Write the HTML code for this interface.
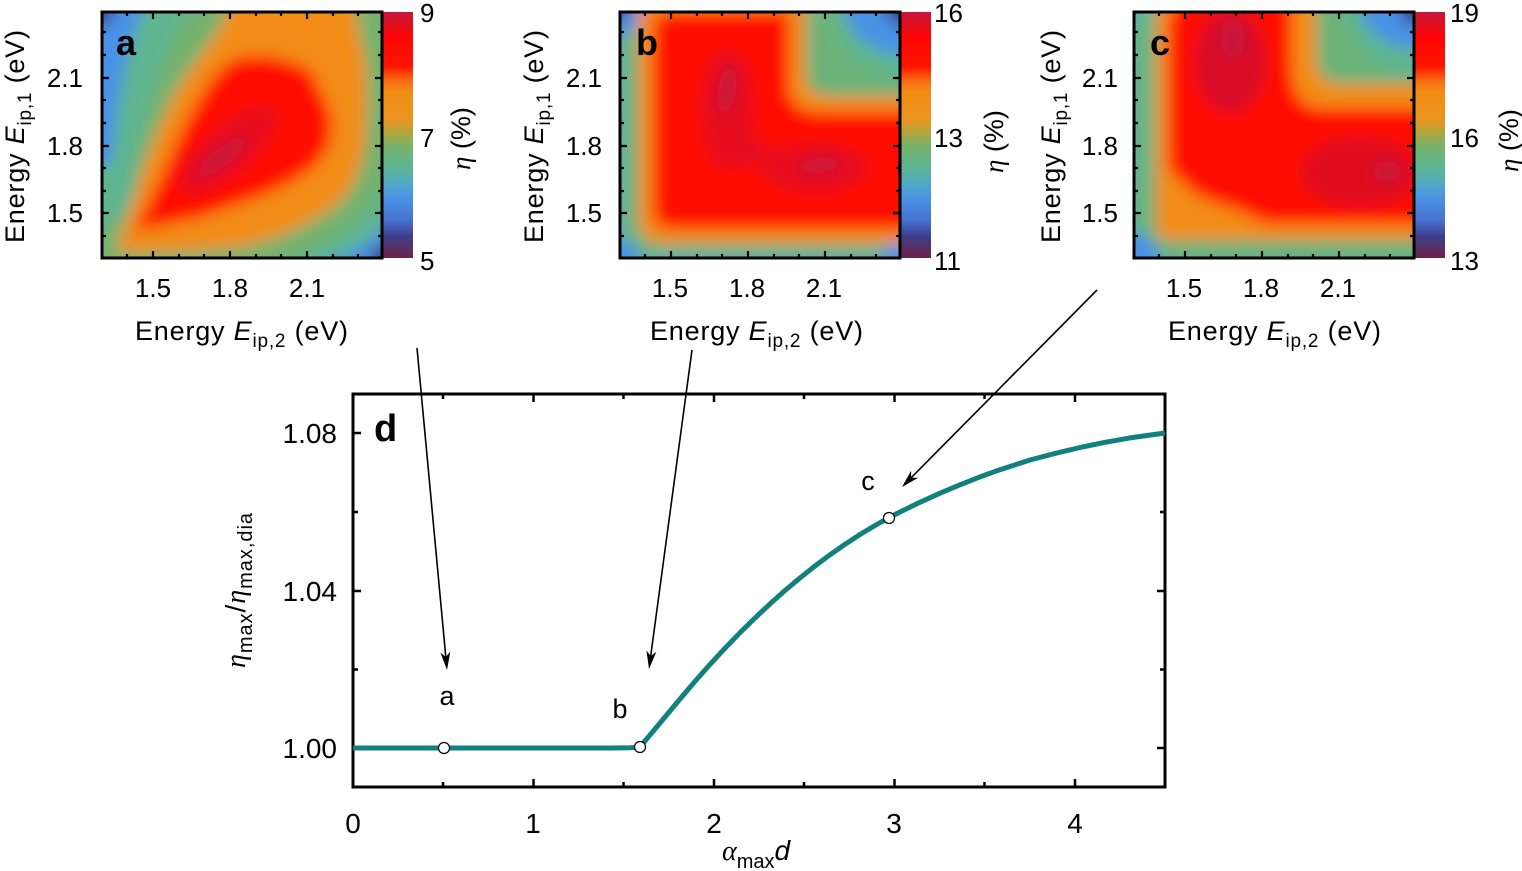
<!DOCTYPE html>
<html><head><meta charset="utf-8"><style>
html,body{margin:0;padding:0;background:#fff;}
svg{display:block;font-family:"Liberation Sans",Arial,sans-serif;}
</style></head><body>
<svg width="1522" height="871" viewBox="0 0 1522 871" xmlns="http://www.w3.org/2000/svg">
<defs>
<linearGradient id="cm" x1="0" y1="0" x2="0" y2="1">
<stop offset="0" stop-color="#c5143c"/>
<stop offset="0.05" stop-color="#e0101e"/>
<stop offset="0.10" stop-color="#ff0505"/>
<stop offset="0.22" stop-color="#ff1500"/>
<stop offset="0.27" stop-color="#fa6010"/>
<stop offset="0.32" stop-color="#f28c14"/>
<stop offset="0.44" stop-color="#ea9420"/>
<stop offset="0.50" stop-color="#a6a845"/>
<stop offset="0.55" stop-color="#74b36e"/>
<stop offset="0.63" stop-color="#5fb590"/>
<stop offset="0.70" stop-color="#50a8c8"/>
<stop offset="0.76" stop-color="#4a92e6"/>
<stop offset="0.85" stop-color="#4670d0"/>
<stop offset="0.91" stop-color="#3e3f8c"/>
<stop offset="1" stop-color="#6e2244"/>
</linearGradient>
<filter id="bl" x="-10%" y="-10%" width="120%" height="120%"><feGaussianBlur stdDeviation="7.5"/></filter>
<clipPath id="ca"><rect x="102" y="12" width="280" height="246"/></clipPath>
<clipPath id="cb"><rect x="620" y="12" width="280" height="246"/></clipPath>
<clipPath id="cc"><rect x="1134" y="12" width="280" height="246"/></clipPath>
<path id="tk" d="M25,258v-4M51,258v-7M77,258v-4M102,258v-4M128,258v-7M154,258v-4M179,258v-4M205,258v-7M231,258v-4M256,258v-4
M25,12v4M51,12v7M77,12v4M102,12v4M128,12v7M154,12v4M179,12v4M205,12v7M231,12v4M256,12v4
M0,32h4M0,55h4M0,78h7M0,100h4M0,123h4M0,146h7M0,168h4M0,191h4M0,213h7M0,236h4
M280,32h-4M280,55h-4M280,78h-7M280,100h-4M280,123h-4M280,146h-7M280,168h-4M280,191h-4M280,213h-7M280,236h-4" fill="none" stroke="#000" stroke-width="2.2"/>
</defs>
<rect width="1522" height="871" fill="#fff"/>

<!-- Panel a heatmap -->
<g clip-path="url(#ca)"><g filter="url(#bl)">
<rect x="88" y="-2" width="310" height="274" fill="#74b36e"/>
<path d="M88,-2 L200,-2 C165,40 140,120 130,210 L88,240 Z" fill="#5fb590"/>
<path d="M398,272 L255,272 C320,252 372,222 398,165 Z" fill="#5fb590"/>
<path d="M88,-2 L150,-2 C130,30 118,90 112,160 L88,175 Z" fill="#4a92e6"/>
<path d="M398,272 L295,272 C345,260 378,240 398,210 Z" fill="#4a92e6"/>
<circle cx="100" cy="12" r="14" fill="#423c86"/>
<circle cx="384" cy="260" r="14" fill="#4a3270"/>
<path d="M116,252 C150,253 190,252 231,248 C262,243 282,236 298,228 C322,216 342,203 350,190 C362,170 367,140 367,110 C367,85 367,62 362,45 C358,30 356,15 354,-2 L234,-2 C226,15 220,28 212,40 C198,58 186,75 175,93 C162,118 150,148 141,175 C133,200 123,228 116,252 Z" fill="#f28c14"/>
<path d="M135,230 C145,210 155,190 165,168 C175,145 185,122 198,101 C208,84 218,70 231,61 C242,55 255,55 265,56 C285,58 300,64 311,71 C314,76 316,80 318,85 C324,97 330,108 331,118 C333,130 331,140 328,148 C320,162 310,172 298,178 C282,188 265,195 248,201 C232,207 215,213 198,218 C175,223 155,228 135,230 Z" fill="#ff0a00"/>
<ellipse cx="228" cy="150" rx="62" ry="24" transform="rotate(-40 228 150)" fill="#e8101e"/>
<ellipse cx="222" cy="157" rx="32" ry="9" transform="rotate(-38 222 157)" fill="#c5143c"/>
</g></g>
<rect x="383" y="12" width="30" height="246" fill="url(#cm)"/>
<rect x="102" y="12" width="280" height="246" fill="none" stroke="#000" stroke-width="3"/>
<use href="#tk" transform="translate(102,0)"/>

<!-- Panel b heatmap -->
<g clip-path="url(#cb)"><g filter="url(#bl)">
<rect x="606" y="-2" width="310" height="274" fill="#6cb37a"/>
<rect x="606" y="-2" width="20" height="274" fill="#5fb5a0"/>
<rect x="606" y="251" width="310" height="22" fill="#5fb2a0"/>
<circle cx="905" cy="5" r="72" fill="#5fb590"/>
<ellipse cx="905" cy="5" rx="60" ry="50" fill="#4a92e6"/>
<circle cx="904" cy="8" r="18" fill="#3e3f8c"/>
<circle cx="615" cy="8" r="28" fill="#4a92e6"/>
<circle cx="618" cy="10" r="10" fill="#403c88"/>
<circle cx="615" cy="262" r="24" fill="#4a92e6"/>
<circle cx="905" cy="262" r="24" fill="#4a92e6"/>
<path d="M638,-2 L806,-2 L806,75 C806,90 815,96 832,96 L916,96 L916,244 L665,244 C648,244 638,235 638,218 Z" fill="#f28c14"/>
<path d="M653,30 C653,18 660,12 675,12 L789,12 L789,85 C789,103 800,112 820,112 L916,112 L916,229 L675,229 C660,229 653,222 653,208 Z" fill="#ff0a00"/>
<ellipse cx="728" cy="110" rx="28" ry="60" fill="#e8101e"/>
<ellipse cx="815" cy="168" rx="55" ry="25" fill="#e8101e"/>
<ellipse cx="748" cy="152" rx="25" ry="12" fill="#e8101e"/>
<ellipse cx="727" cy="90" rx="9" ry="26" transform="rotate(8 727 90)" fill="#c5143c"/>
<ellipse cx="820" cy="165" rx="22" ry="8" transform="rotate(-8 820 165)" fill="#c5143c"/>
<ellipse cx="743" cy="152" rx="8" ry="5" transform="rotate(-40 743 152)" fill="#d41030"/>
</g></g>
<rect x="901" y="12" width="30" height="246" fill="url(#cm)"/>
<rect x="620" y="12" width="280" height="246" fill="none" stroke="#000" stroke-width="3"/>
<use href="#tk" transform="translate(620,0)"/>

<!-- Panel c heatmap -->
<g clip-path="url(#cc)"><g filter="url(#bl)">
<rect x="1120" y="-2" width="310" height="274" fill="#6cb37a"/>
<rect x="1120" y="-2" width="22" height="274" fill="#62b48e"/>
<rect x="1120" y="252" width="310" height="22" fill="#64b48a"/>
<circle cx="1130" cy="8" r="22" fill="#5fb5a0"/>
<circle cx="1419" cy="5" r="72" fill="#5fb590"/>
<ellipse cx="1419" cy="5" rx="58" ry="44" fill="#4a92e6"/>
<circle cx="1416" cy="9" r="16" fill="#3e3f8c"/>
<circle cx="1130" cy="262" r="30" fill="#4a92e6"/>
<path d="M1156,-2 L1316,-2 L1316,55 C1316,75 1325,84 1340,84 L1430,84 L1430,240 L1165,240 C1158,240 1156,232 1156,225 Z" fill="#f28c14"/>
<path d="M1168,40 C1168,10 1175,-2 1190,-2 L1292,-2 L1292,60 C1292,95 1300,108 1325,108 L1430,108 L1430,224 L1270,224 C1250,218 1240,210 1230,208 C1215,203 1205,200 1197,195 C1185,186 1175,176 1168,168 Z" fill="#ff0a00"/>
<ellipse cx="1230" cy="62" rx="36" ry="52" fill="#d81028"/>
<ellipse cx="1360" cy="172" rx="60" ry="36" fill="#e0101e"/>
<ellipse cx="1233" cy="38" rx="12" ry="20" fill="#c5143c"/>
<ellipse cx="1387" cy="171" rx="15" ry="10" fill="#c5143c"/>
</g></g>
<rect x="1415" y="12" width="30" height="246" fill="url(#cm)"/>
<rect x="1134" y="12" width="280" height="246" fill="none" stroke="#000" stroke-width="3"/>
<use href="#tk" transform="translate(1134,0)"/>

<!-- heatmap text -->
<g font-size="26" fill="#000">
<text x="83" y="87" text-anchor="end">2.1</text>
<text x="83" y="155" text-anchor="end">1.8</text>
<text x="83" y="222" text-anchor="end">1.5</text>
<text x="153" y="297" text-anchor="middle">1.5</text>
<text x="230" y="297" text-anchor="middle">1.8</text>
<text x="307" y="297" text-anchor="middle">2.1</text>
<text x="420" y="22">9</text><text x="420" y="147">7</text><text x="420" y="270">5</text>

<text x="602" y="87" text-anchor="end">2.1</text>
<text x="602" y="155" text-anchor="end">1.8</text>
<text x="602" y="222" text-anchor="end">1.5</text>
<text x="670" y="297" text-anchor="middle">1.5</text>
<text x="747" y="297" text-anchor="middle">1.8</text>
<text x="824" y="297" text-anchor="middle">2.1</text>
<text x="934" y="22">16</text><text x="934" y="147">13</text><text x="934" y="270">11</text>

<text x="1118" y="87" text-anchor="end">2.1</text>
<text x="1118" y="155" text-anchor="end">1.8</text>
<text x="1118" y="222" text-anchor="end">1.5</text>
<text x="1184" y="297" text-anchor="middle">1.5</text>
<text x="1261" y="297" text-anchor="middle">1.8</text>
<text x="1338" y="297" text-anchor="middle">2.1</text>
<text x="1450" y="22">19</text><text x="1450" y="147">16</text><text x="1450" y="270">13</text>
</g>

<g font-size="27" fill="#000">
<text x="135" y="340" textLength="213" lengthAdjust="spacing">Energy <tspan font-style="italic">E</tspan><tspan font-size="19" dy="7">ip,2</tspan><tspan dy="-7"> (eV)</tspan></text>
<text x="650" y="340" textLength="213" lengthAdjust="spacing">Energy <tspan font-style="italic">E</tspan><tspan font-size="19" dy="7">ip,2</tspan><tspan dy="-7"> (eV)</tspan></text>
<text x="1168" y="340" textLength="213" lengthAdjust="spacing">Energy <tspan font-style="italic">E</tspan><tspan font-size="19" dy="7">ip,2</tspan><tspan dy="-7"> (eV)</tspan></text>
<text transform="translate(24,243) rotate(-90)" textLength="213" lengthAdjust="spacing">Energy <tspan font-style="italic">E</tspan><tspan font-size="19" dy="7">ip,1</tspan><tspan dy="-7"> (eV)</tspan></text>
<text transform="translate(543,243) rotate(-90)" textLength="213" lengthAdjust="spacing">Energy <tspan font-style="italic">E</tspan><tspan font-size="19" dy="7">ip,1</tspan><tspan dy="-7"> (eV)</tspan></text>
<text transform="translate(1060,243) rotate(-90)" textLength="213" lengthAdjust="spacing">Energy <tspan font-style="italic">E</tspan><tspan font-size="19" dy="7">ip,1</tspan><tspan dy="-7"> (eV)</tspan></text>
<text transform="translate(470,170) rotate(-90)"><tspan font-family="Liberation Serif, serif" font-style="italic">η</tspan> (%)</text>
<text transform="translate(1003,173) rotate(-90)"><tspan font-family="Liberation Serif, serif" font-style="italic">η</tspan> (%)</text>
<text transform="translate(1518,172) rotate(-90)"><tspan font-family="Liberation Serif, serif" font-style="italic">η</tspan> (%)</text>
</g>

<g font-size="36" font-weight="bold" fill="#000">
<text x="116" y="55">a</text>
<text x="636" y="55">b</text>
<text x="1150" y="55">c</text>
</g>

<!-- Panel d -->
<rect x="353" y="394" width="812" height="393" fill="none" stroke="#000" stroke-width="3"/>
<path d="M353,787v-8M533.5,787v-8M714,787v-8M894.5,787v-8M1075,787v-8
M443,787v-5M623.5,787v-5M804,787v-5M984.5,787v-5
M353,394v8M533.5,394v8M714,394v8M894.5,394v8M1075,394v8
M443,394v5M623.5,394v5M804,394v5M984.5,394v5
M353,748h8M353,591h8M353,433h8M353,669.5h5M353,512h5
M1165,748h-8M1165,591h-8M1165,433h-8M1165,669.5h-5M1165,512h-5" fill="none" stroke="#000" stroke-width="2.5"/>

<g font-size="28" fill="#000">
<text x="337" y="443" text-anchor="end">1.08</text>
<text x="337" y="601" text-anchor="end">1.04</text>
<text x="337" y="758" text-anchor="end">1.00</text>
<text x="353" y="833" text-anchor="middle">0</text>
<text x="533" y="833" text-anchor="middle">1</text>
<text x="714" y="833" text-anchor="middle">2</text>
<text x="894" y="833" text-anchor="middle">3</text>
<text x="1075" y="833" text-anchor="middle">4</text>
<text x="722" y="860"><tspan font-family="Liberation Serif, serif" font-style="italic">α</tspan><tspan font-size="20" dy="8">max</tspan><tspan dy="-8" font-style="italic">d</tspan></text>
<text transform="translate(245,668) rotate(-90)" textLength="155" lengthAdjust="spacing"><tspan font-family="Liberation Serif, serif" font-style="italic">η</tspan><tspan font-size="20" dy="7">max</tspan><tspan dy="-7">/</tspan><tspan font-family="Liberation Serif, serif" font-style="italic">η</tspan><tspan font-size="20" dy="7">max,dia</tspan></text>
<text x="447" y="705" text-anchor="middle" font-size="27">a</text>
<text x="620" y="718" text-anchor="middle" font-size="27">b</text>
<text x="868" y="490" text-anchor="middle" font-size="27">c</text>
</g>
<text x="374" y="441" font-size="38" font-weight="bold">d</text>

<polyline fill="none" stroke="#12807c" stroke-width="5" stroke-linejoin="round" stroke-linecap="butt"
points="353,748 610,748 622,747.9 630,747.7 636,747.4 640,747 655,729 670,711 680,699 695,681.4 710,664.4 725,648.2 740,632.7 755,618 770,603.9 785,590.5 800,577.9 815,566 830,554.8 845,544.3 860,534.5 875,525.5 889,517.7 900,512 920,502.3 940,493.2 960,484.8 980,476.9 1000,469.7 1030,460 1055,453.4 1080,447.5 1105,442.3 1130,437.9 1165,433"/>
<g fill="#fff" stroke="#000" stroke-width="1.2">
<circle cx="444" cy="748" r="5.5"/>
<circle cx="640" cy="747" r="5.5"/>
<circle cx="889" cy="518" r="5.5"/>
</g>

<!-- arrows -->
<g stroke="#000" stroke-width="1.6" fill="none">
<line x1="417" y1="348" x2="445.8" y2="657"/>
<line x1="692" y1="350" x2="650.7" y2="656"/>
<line x1="1097" y1="290" x2="911.2" y2="477.7"/>
</g>
<g fill="#000">
<polygon points="447,670 450.31,651.62 445.79,657.06 440.35,652.54"/>
<polygon points="649,669 656.36,651.83 650.74,656.12 646.45,650.49"/>
<polygon points="902,487 918.21,477.73 911.15,477.76 911.11,470.69"/>
</g>
</svg>
</body></html>
